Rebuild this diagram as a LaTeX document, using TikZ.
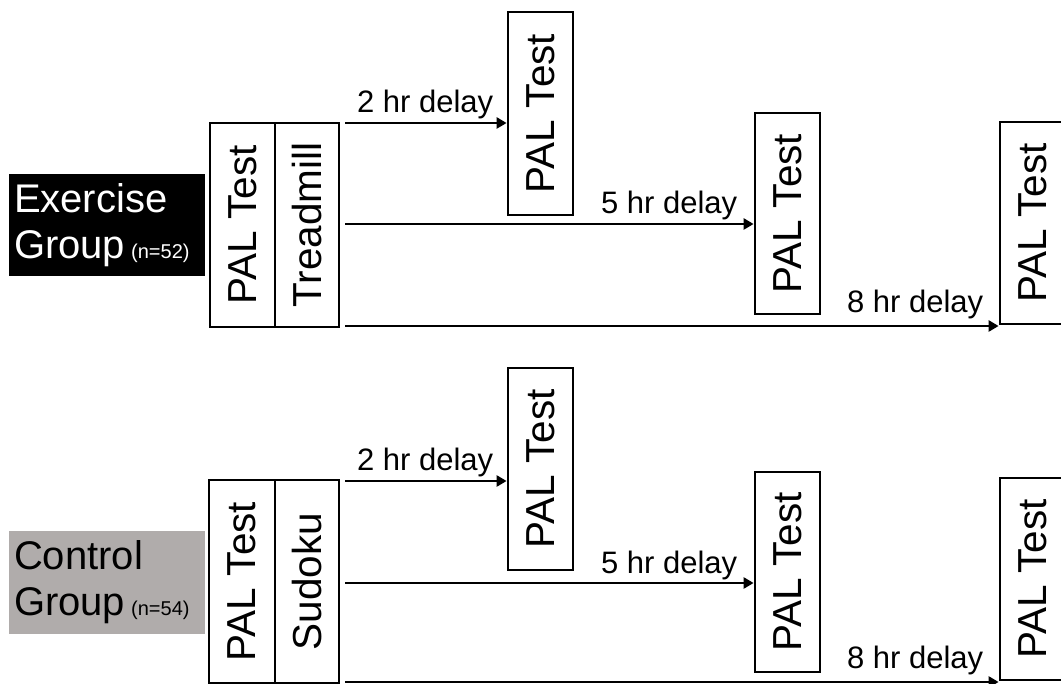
\documentclass[tikz,border=0pt]{standalone}
\usepackage{fontspec}
\setmainfont{Liberation Sans}
\usetikzlibrary{arrows.meta,calc}
\definecolor{ctrlgray}{RGB}{176,172,171}
\tikzset{
  testbox/.style={draw=black, line width=2.8pt, fill=white, minimum width=65pt, inner sep=0pt,
    font=\fontsize{40.5}{44}\selectfont},
  grouplabel/.style={minimum width=196pt, minimum height=102pt, inner sep=0pt, outer sep=0pt,
    align=left, text width=190pt, font=\fontsize{40}{46}\selectfont},
  flow/.style={line width=2.8pt, -{Triangle[length=10pt,width=11pt]}},
  delaylabel/.style={font=\fontsize{31}{34}\selectfont, anchor=base east, inner sep=0pt}
}
\begin{document}
\begin{tikzpicture}[x=1pt,y=-1pt]
\useasboundingbox (0,0) rectangle (1061,684);
\clip (0,0) rectangle (1061,684);

% ---------------- Exercise group ----------------
\node[grouplabel, fill=black, text=white] (ex) at (107,225)
  {\hspace*{2pt}Exercise\\\hspace*{2pt}Group\hspace{6pt}{\fontsize{20}{24}\selectfont(n=52)}};

\node[testbox, minimum height=204pt] (ep1) at (242.5,225) {\rotatebox{90}{PAL Test}};
\node[testbox, minimum width=64pt, minimum height=204pt] (etr) at (307,225) {\rotatebox{90}{Treadmill}};
\node[testbox, minimum height=203pt] (ep2) at (540.5,113.5) {\rotatebox{90}{PAL Test}};
\node[testbox, minimum height=201pt] (ep5) at (787.5,213.5) {\rotatebox{90}{PAL Test}};
\node[testbox, minimum height=202pt] (ep8) at (1032.5,223) {\rotatebox{90}{PAL Test}};

\coordinate (es2) at (345,123);
\coordinate (es5) at (345,224);
\coordinate (es8) at (345,326);
\draw[flow] (es2) -- (es2 -| ep2.west)
  node[delaylabel, pos=1, xshift=-12pt, yshift=10pt] {2 hr delay};
\draw[flow] (es5) -- (es5 -| ep5.west)
  node[delaylabel, pos=1, xshift=-15pt, yshift=10pt] {5 hr delay};
\draw[flow] (es8) -- (es8 -| ep8.west)
  node[delaylabel, pos=1, xshift=-14pt, yshift=13pt] {8 hr delay};

% ---------------- Control group ----------------
\node[grouplabel, fill=ctrlgray, text=black] (ct) at (107,582.5)
  {\hspace*{2pt}Control\\\hspace*{2pt}Group\hspace{6pt}{\fontsize{20}{24}\selectfont(n=54)}};

\node[testbox, minimum width=66pt, minimum height=203pt] (cp1) at (242,581.5) {\rotatebox{90}{PAL Test}};
\node[testbox, minimum width=64pt, minimum height=203pt] (csu) at (307,581.5) {\rotatebox{90}{Sudoku}};
\node[testbox, minimum height=202pt] (cp2) at (540.5,469) {\rotatebox{90}{PAL Test}};
\node[testbox, minimum height=200pt] (cp5) at (787.5,572) {\rotatebox{90}{PAL Test}};
\node[testbox, minimum height=202pt] (cp8) at (1032.5,579) {\rotatebox{90}{PAL Test}};

\coordinate (cs2) at (345,481);
\coordinate (cs5) at (345,583);
\coordinate (cs8) at (345,682);
\draw[flow] (cs2) -- (cs2 -| cp2.west)
  node[delaylabel, pos=1, xshift=-12pt, yshift=10pt] {2 hr delay};
\draw[flow] (cs5) -- (cs5 -| cp5.west)
  node[delaylabel, pos=1, xshift=-15pt, yshift=10pt] {5 hr delay};
\draw[flow] (cs8) -- (cs8 -| cp8.west)
  node[delaylabel, pos=1, xshift=-14pt, yshift=14pt] {8 hr delay};
\end{tikzpicture}
\end{document}
